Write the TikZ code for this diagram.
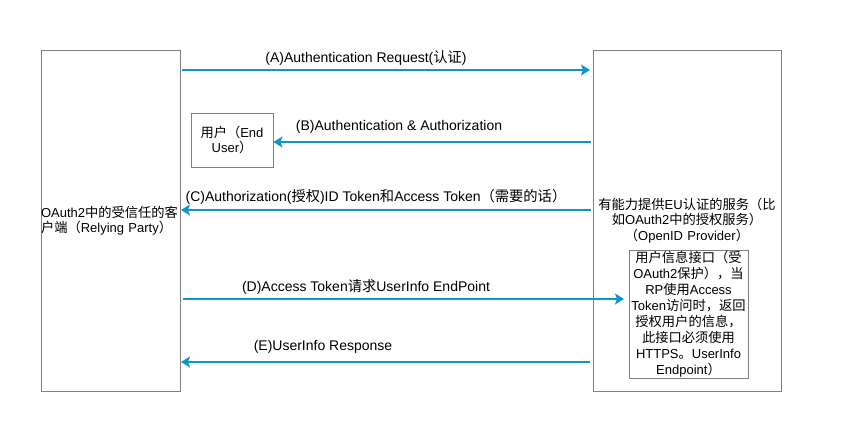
\documentclass[tikz,border=0pt]{standalone}
\usepackage{fontspec}
\setmainfont{Liberation Sans}
\newfontfamily\cjk{Noto Sans CJK SC}[Scale=1.02]
\newcommand{\zh}[1]{{\cjk #1}}
\usetikzlibrary{arrows.meta}
\definecolor{flowblue}{RGB}{16,148,204}

\begin{document}
\begin{tikzpicture}[x=1pt, y=-1pt, font=\fontsize{14}{15.5}\selectfont,
partybox/.style={rectangle, draw=black!50, line width=0.8pt, inner sep=0pt, font=\fontsize{13}{15.5}\selectfont},
msg/.style={draw=flowblue, line width=1.6pt, -{Stealth[length=9pt, width=11pt, inset=2pt]}},
msglabel/.style={inner sep=0pt},
]
\useasboundingbox (0,0) rectangle (841,427);
%Nodes
\node[partybox, minimum width=139, minimum height=341, text width=139, align=left] (RP) at (110.5,220.5)
  {\mbox{OAuth2\zh{中的受信任的客}}\\\zh{户端（}Relying Party\zh{）}};
\node[partybox, minimum width=188, minimum height=341, text width=186, align=center] (OP) at (687,220.5)
  {\zh{有能力提供}EU\zh{认证的服务（比}\\\zh{如}OAuth2\zh{中的授权服务）}\\\zh{（}OpenID Provider\zh{）}};
\node[partybox, minimum width=119, minimum height=128, text width=119, align=center,
  font=\fontsize{13}{16}\selectfont] (UI) at (688.5,314)
  {\zh{用户信息接口（受}\\OAuth2\zh{保护），当}\\RP\zh{使用}Access\\Token\zh{访问时，返回}\\\zh{授权用户的信息，}\\\zh{此接口必须使用}\\HTTPS\zh{。}UserInfo\\Endpoint\zh{）}};
\node[partybox, minimum width=82, minimum height=54, align=center] (EU) at (232,140)
  {\zh{用户（}End\\User\zh{）}};

\node[msglabel] (labA) at (366,58) {(A)Authentication Request(\zh{认证})};
\node[msglabel] (labB) at (399,127) {(B)Authentication \& Authorization};
\node[msglabel] (labC) at (376,197) {(C)Authorization(\zh{授权})ID Token\zh{和}Access Token\zh{（需要的话）}};
\node[msglabel] (labD) at (366,287) {(D)Access Token\zh{请求}UserInfo EndPoint};
\node[msglabel] (labE) at (323,347) {(E)UserInfo Response};

\coordinate (aS) at (182,70);  \coordinate (aT) at (590,70);
\coordinate (bS) at (591,142);
\coordinate (cS) at (591,210); \coordinate (cT) at (181,210);
\coordinate (dS) at (183,299); \coordinate (dT) at (624,299);
\coordinate (eS) at (590,362); \coordinate (eT) at (181,362);

%Lines
\draw[msg] (aS) -- (aT);
\draw[msg] (bS) -- (bS -| EU.east);
\draw[msg] (cS) -- (cT);
\draw[msg] (dS) -- (dT);
\draw[msg] (eS) -- (eT);

\end{tikzpicture}
\end{document}
